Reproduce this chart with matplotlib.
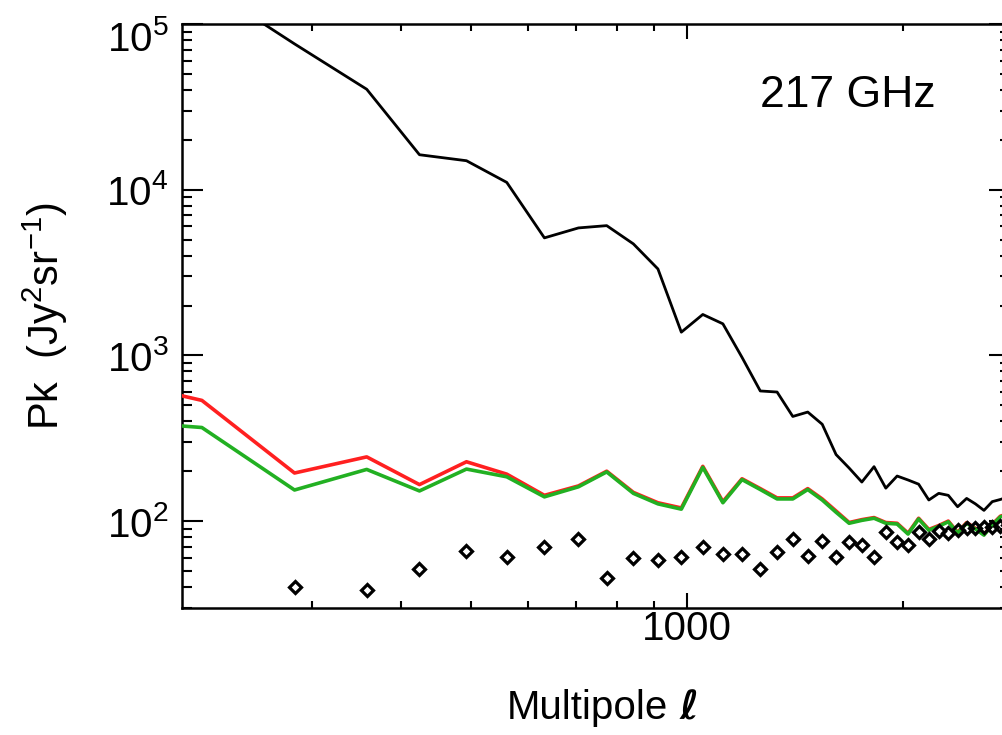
import matplotlib
matplotlib.use("Agg")
import matplotlib.pyplot as plt
import matplotlib.transforms as mtransforms
from matplotlib.ticker import FixedLocator, NullFormatter, LogLocator, LogFormatterMathtext

plt.rcParams['font.family'] = ['Liberation Sans', 'DejaVu Sans']
plt.rcParams['mathtext.fontset'] = 'custom'
plt.rcParams['mathtext.rm'] = 'Liberation Sans'
plt.rcParams['mathtext.it'] = 'Liberation Sans:italic'
plt.rcParams['mathtext.bf'] = 'Liberation Sans:bold'

# multipole bin centres
ell = [141, 211, 284, 358, 424, 493, 561, 633, 706, 773, 842, 911, 982,
       1052, 1122, 1193, 1265, 1335, 1404, 1473, 1543, 1613, 1682, 1752,
       1822, 1892, 1962, 2032, 2102, 2172, 2242, 2312, 2382, 2452, 2522,
       2592, 2662, 2732, 2802]

# total power (black)
pk_total = [400000, 175000, 75900, 40400, 16260, 14960, 11070, 5120, 5880,
            6070, 4710, 3325, 1381, 1766, 1551, 973, 610, 601, 428, 455,
            384, 252, 209, 172, 213, 158, 187, 177, 167, 134, 147, 143,
            122, 137, 127, 116, 131, 135, 140]

# red curve
pk_red = [800, 535, 195, 244, 166, 228, 192, 143, 163, 200, 149, 129, 120,
          214, 131, 180, 157, 138, 138, 157, 136, 115, 98, 102, 105, 98,
          97, 84.5, 104, 89, 94, 100, 85.5, 98, 90.5, 83, 95.5, 107, 111]

# green curve
pk_green = [420, 367, 154, 205, 152, 206, 185, 140, 161, 198, 147, 127, 118,
            211, 129, 178, 155, 136, 136, 155, 134, 113, 97, 101, 104, 97,
            96, 83.5, 103, 88, 93, 99, 84.7, 97, 89.5, 82.3, 94.6, 106, 110]

# diamonds (first bins below the plotted range)
pk_pts = [20, 25, 40.2, 38.4, 51.2, 66.2, 61.0, 70.0, 77.6, 45.5, 60.1, 58.2,
          60.4, 69.4, 63.3, 63.3, 51.2, 65.3, 77.9, 61.8, 76.1, 60.4, 74.4,
          72.0, 60.4, 85.8, 74.7, 72.0, 86.2, 77.9, 87, 84.7, 88.3, 90.7,
          90.7, 92, 92, 93, 94.6]

fig = plt.figure(figsize=(10.03, 7.35), dpi=100)
ax = fig.add_axes([0.1815, 0.1732, 0.8255, 0.7941])

ax.plot(ell, pk_total, color='black', lw=2.0, zorder=3)
ax.plot(ell, pk_red, color='#ff2020', lw=2.6, zorder=4)
ax.plot(ell, pk_green, color='#22b022', lw=2.6, zorder=5)
ax.plot(ell, pk_pts, ls='none', marker='D', ms=6.2, mfc='none', mec='black',
        mew=2.3, zorder=6)

ax.set_xscale('log')
ax.set_yscale('log')
ax.set_xlim(198, 2818)
ax.set_ylim(30, 1e5)

# x ticks
ax.xaxis.set_major_locator(FixedLocator([1000]))
ax.set_xticklabels(['1000'])
ax.xaxis.set_minor_locator(FixedLocator([300, 400, 500, 600, 700, 800, 900, 2000, 3000]))
ax.xaxis.set_minor_formatter(NullFormatter())

# y ticks
ax.yaxis.set_major_locator(LogLocator(base=10, numticks=10))
ax.yaxis.set_major_formatter(LogFormatterMathtext())
ax.yaxis.set_minor_locator(LogLocator(base=10, subs=range(2, 10), numticks=10))
ax.yaxis.set_minor_formatter(NullFormatter())

ax.tick_params(axis='both', which='both', direction='in', top=True, right=True,
               width=1.5, colors='black', labelsize=29)
ax.tick_params(axis='x', which='major', length=10.5, pad=2)
ax.tick_params(axis='x', which='minor', length=5.3)
ax.tick_params(axis='y', which='major', length=14.9, pad=10)
ax.tick_params(axis='y', which='minor', length=7.5)

for s in ax.spines.values():
    s.set_linewidth(1.8)

# x label: plain word plus a bold slanted script ell
ax.text(0.587, -0.172, 'Multipole', transform=ax.transAxes, fontsize=29,
        ha='right', va='center', clip_on=False)
ax.text(0.601, -0.172, '\u2113', transform=ax.transAxes, fontsize=29,
        family='DejaVu Sans', weight='bold', style='oblique',
        ha='left', va='center', clip_on=False)

ax.set_ylabel(r'Pk  (Jy$^{2}$sr$^{-1}$)', fontsize=30, va='center')
ax.yaxis.set_label_coords(-0.1655, 0.5)

ax.text(0.804, 0.878, '217 GHz', transform=ax.transAxes, fontsize=32,
        ha='center', va='center')

# nudge the top y label down a little, as in the original
fig.canvas.draw()
for t in ax.yaxis.get_major_ticks():
    if abs(t.get_loc() - 1e5) < 1:
        t.label1.set_transform(t.label1.get_transform() +
                               mtransforms.ScaledTranslation(0, -8 / 72, fig.dpi_scale_trans))

fig.savefig('out.png', dpi=100)
